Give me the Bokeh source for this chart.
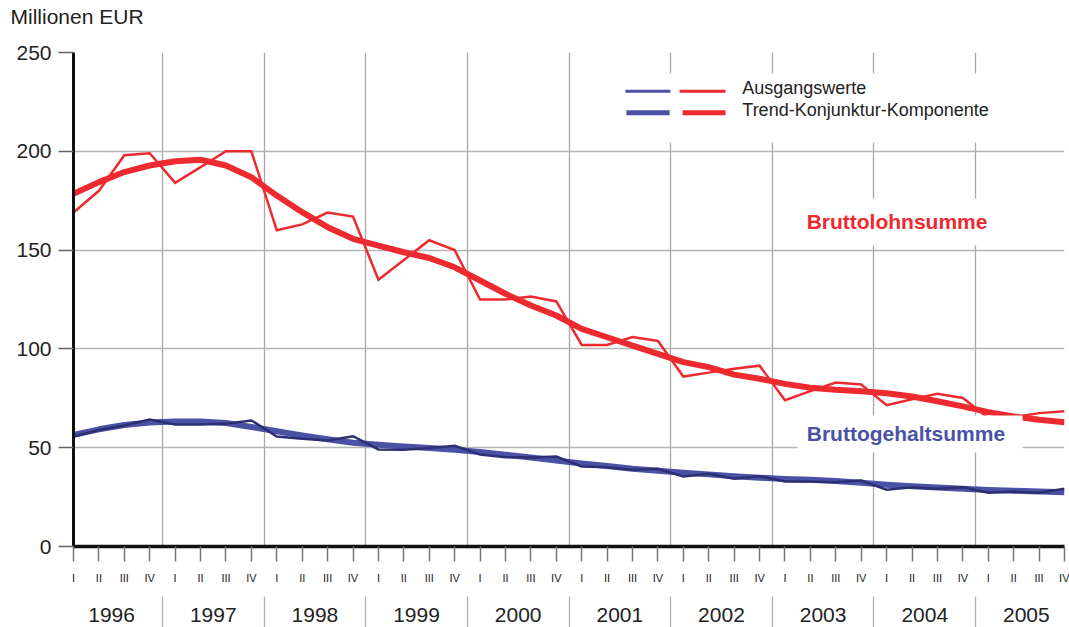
from bokeh.plotting import figure
from bokeh.models import (Range1d, FixedTicker, LinearAxis, Label, BoxAnnotation,
                          ColumnDataSource)
from bokeh.embed import file_html
from bokeh.resources import INLINE

years = ["1996", "1997", "1998", "1999", "2000", "2001", "2002", "2003", "2004", "2005"]
quarters = ["I", "II", "III", "IV"]

# Bruttolohnsumme (Millionen EUR)
lohn_raw = [169, 180, 198, 199, 184, 192, 200, 200,
            160, 163, 169, 167, 135, 145, 155, 150,
            125, 125, 126.5, 124, 102, 102, 106, 104,
            86, 88, 90, 91.5, 74, 78.6, 83, 82,
            71.5, 74.5, 77.3, 75.2, 65, 65.4, 67.5, 68.5]
lohn_trend = [178.5, 184.4, 189.5, 192.8, 195, 195.7, 192.8, 186.9,
              177.6, 169.2, 161.6, 155.7, 152.3, 148.9, 146, 141.3,
              134.6, 127.9, 122, 116.9, 110.1, 105.9, 101.7, 97.5,
              93.3, 90.8, 87, 84.9, 82.3, 80.3, 79.3, 78.6,
              77.6, 75.9, 73.5, 70.9, 68, 65.8, 64.1, 62.9]
# Bruttogehaltsumme (Millionen EUR)
gehalt_raw = [55.7, 59, 61.2, 64.3, 61.7, 61.7, 62.1, 63.8,
              55.7, 54.5, 53.6, 55.8, 49.1, 49, 49.9, 51,
              46.6, 45.2, 45, 45.5, 40.5, 40.1, 38.8, 39.3,
              35.4, 36.8, 34.3, 35.6, 32.9, 32.9, 32.5, 33.4,
              28.7, 30, 29.2, 30, 27.2, 27.8, 27.2, 29.2]
gehalt_trend = [56.5, 59.3, 61.5, 62.8, 63.3, 63.3, 62.5, 60.5,
                58.3, 56.2, 54.3, 52.5, 51.5, 50.6, 49.8, 49,
                47.8, 46.5, 45, 43.5, 42, 40.7, 39.3, 38.3,
                37.3, 36.5, 35.6, 34.8, 34.2, 33.8, 33.2, 32.3,
                31.3, 30.5, 29.8, 29.2, 28.6, 28.2, 27.8, 27.4]

RED = "#ec2a2f"
BLUE = "#4a52a6"
NAVY = "#2c2f72"
FONT = "Liberation Sans"
TXT = "#222222"

n = len(lohn_raw)
idx = list(range(n))
src = ColumnDataSource(dict(x=idx, lr=lohn_raw, lt=lohn_trend, gr=gehalt_raw, gt=gehalt_trend))

p = figure(width=1069, height=627, x_range=Range1d(0, n - 1), y_range=Range1d(0, 250),
           output_backend="svg", toolbar_location=None,
           min_border_left=73, min_border_right=5, min_border_top=52, min_border_bottom=81)
p.outline_line_color = None
p.background_fill_color = "white"

# unit label as title (top left); the empty second line lifts it to the top edge
p.title.text = "Millionen EUR\n "
p.title.align = "left"
p.title.vertical_align = "top"
p.title.offset = -63
p.title.standoff = 0
p.title.text_font = FONT
p.title.text_font_size = "21px"
p.title.text_font_style = "normal"
p.title.text_color = TXT

# grids
year_bounds = [4 * k + 3.5 for k in range(len(years) - 1)]
year_centers = [4 * k + 1.5 for k in range(len(years))]
p.xgrid.ticker = FixedTicker(ticks=year_bounds)
p.xgrid.grid_line_color = "#a8a8a8"
p.xgrid.grid_line_width = 1.3
p.ygrid.grid_line_color = "#b4b4b4"
p.ygrid.grid_line_width = 1.5

# y axis
p.yaxis.ticker = FixedTicker(ticks=[0, 50, 100, 150, 200, 250])
p.yaxis.axis_line_color = "#111111"
p.yaxis.axis_line_width = 3
p.yaxis.major_tick_in = 0
p.yaxis.major_tick_out = 15
p.yaxis.major_tick_line_color = "#666666"
p.yaxis.major_tick_line_width = 1.3
p.yaxis.minor_tick_line_color = None
p.yaxis.major_label_text_font = FONT
p.yaxis.major_label_text_font_size = "21px"
p.yaxis.major_label_text_color = TXT
p.yaxis.major_label_standoff = 7

# quarter axis
p.xaxis.ticker = FixedTicker(ticks=idx)
p.xaxis.major_label_overrides = {i: quarters[i % 4] for i in idx}
p.xaxis.axis_line_color = "#111111"
p.xaxis.axis_line_width = 3.5
p.xaxis.major_tick_in = 0
p.xaxis.major_tick_out = 15
p.xaxis.major_tick_line_color = "#777777"
p.xaxis.major_tick_line_width = 1.5
p.xaxis.minor_tick_line_color = None
p.xaxis.major_label_text_font = FONT
p.xaxis.major_label_text_font_size = "11px"
p.xaxis.major_label_text_color = TXT
p.xaxis.major_label_standoff = 10
p.xaxis.axis_label = " "
p.xaxis.axis_label_text_font_size = "7px"
p.xaxis.axis_label_standoff = 0

# year axis
yax = LinearAxis(ticker=FixedTicker(ticks=year_centers, minor_ticks=year_bounds))
yax.major_label_overrides = {c: years[k] for k, c in enumerate(year_centers)}
yax.axis_line_color = None
yax.major_tick_line_color = None
yax.major_tick_in = 0
yax.major_tick_out = 0
yax.minor_tick_in = 0
yax.minor_tick_out = 31
yax.minor_tick_line_color = "#b0b0b0"
yax.minor_tick_line_width = 1.3
yax.major_label_text_font = FONT
yax.major_label_text_font_size = "21px"
yax.major_label_text_color = TXT
yax.major_label_standoff = -20
p.add_layout(yax, "below")

# series
p.line("x", "gt", source=src, line_color=BLUE, line_width=6, line_join="round")
p.line("x", "gr", source=src, line_color=NAVY, line_width=2.5, line_join="miter")
p.line("x", "lt", source=src, line_color=RED, line_width=6, line_join="round")
p.line("x", "lr", source=src, line_color=RED, line_width=2.5, line_join="miter")

# white boxes behind legend and series labels
for l, r, b, t in [(21.1, 36.9, 204.5, 239.4), (28.2, 36.6, 152.3, 176.1), (28.5, 37.35, 47.6, 66.3)]:
    p.add_layout(BoxAnnotation(left=l, right=r, bottom=b, top=t, fill_color="white",
                               fill_alpha=1.0, line_color=None, level="annotation"))

# legend
for l, r, y, h, c in [(21.72, 23.49, 230.4, 0.75, BLUE), (23.85, 25.66, 230.4, 0.75, RED),
                      (21.76, 23.46, 219.5, 1.3, BLUE), (23.97, 25.66, 219.5, 1.3, RED)]:
    p.add_layout(BoxAnnotation(left=l, right=r, bottom=y - h, top=y + h, fill_color=c,
                               fill_alpha=1.0, line_color=None, level="annotation"))
for y, t in [(231.8, "Ausgangswerte"), (220.8, "Trend-Konjunktur-Komponente")]:
    p.add_layout(Label(x=26.32, y=y, text=t, text_font=FONT, text_font_size="18px",
                       text_color=TXT, text_baseline="middle", text_align="left"))

# series labels
p.add_layout(Label(x=32.41, y=164.6, text="Bruttolohnsumme", text_font=FONT,
                   text_font_size="21px", text_font_style="bold", text_color=RED,
                   text_baseline="middle", text_align="center"))
p.add_layout(Label(x=32.76, y=57.2, text="Bruttogehaltsumme", text_font=FONT,
                   text_font_size="21px", text_font_style="bold", text_color=BLUE,
                   text_baseline="middle", text_align="center"))

open("out.html", "w").write(file_html(p, INLINE))
